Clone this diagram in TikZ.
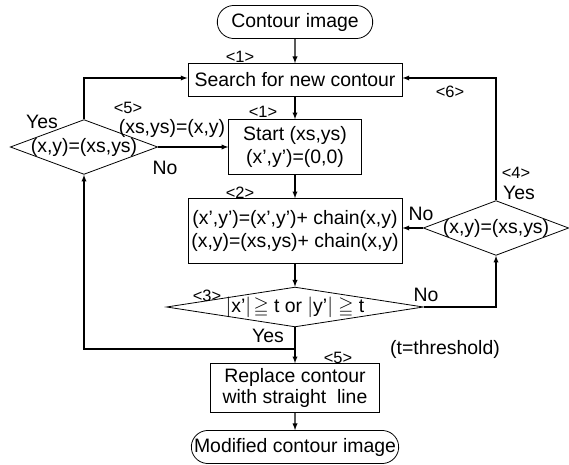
\documentclass[tikz,border=0pt]{standalone}
\usepackage{amssymb}
\usepackage{fontspec}
\setmainfont{Liberation Sans}
\usetikzlibrary{calc,shapes.geometric,shapes.misc}
\def\drawflow{\draw[->,>=latex,line width=1.3bp]}
\def\procnode{\node[draw,line width=0.8bp,inner sep=0pt,align=center]}
\def\termnode{\node[draw,line width=0.8bp,rounded rectangle,rounded rectangle arc length=170,inner sep=0pt]}
\def\decnode{\node[draw,line width=0.8bp,diamond,inner sep=0pt]}
\def\tagnode{\node[font=\fontsize{16.5}{18}\selectfont,inner sep=0pt]}

\begin{document}
\begin{tikzpicture}[x=1bp,y=-1bp,font=\fontsize{19.5}{23}\selectfont]
\useasboundingbox (0,0) rectangle (569,465);
\coordinate (o) at (295,0);

% Main column, positions are relative to (o)
\termnode[minimum width=156,minimum height=33] (start_img) at ($ (o) + (0,22) $) {Contour image};
\procnode[minimum width=215,minimum height=33] (search) at ($ (o) + (0,80) $) {Search for new contour};
\procnode[minimum width=133,minimum height=55] (begin) at ($ (o) + (0,147) $) {Start (xs,ys)\\(x’,y’)=(0,0)};
\procnode[minimum width=215,minimum height=65] (chain) at ($ (o) + (0,231) $) {(x’,y’)=(x’,y’)+ chain(x,y)\\(x,y)=(xs,ys)+ chain(x,y)};
\decnode[minimum width=258,minimum height=40,label={center:$|$x’$|\!\geqq$ t or $|$y’$|$ $\geqq$ t}] (thresh) at ($ (o) + (0,307) $) {};
\procnode[minimum width=170,minimum height=49,font=\fontsize{19.5}{21}\selectfont] (replace) at ($ (o) + (0,388) $) {Replace contour\\with straight~ line};
\termnode[minimum width=197,minimum height=33] (end_img) at ($ (o) + (0,447) $) {Modified contour image};

% Side decisions
\decnode[minimum width=146,minimum height=55,label={center:(x,y)=(xs,ys)}] (closed) at (496,228) {};
\decnode[minimum width=148,minimum height=55,label={center:(x,y)=(xs,ys)}] (back) at (84,147) {};
\coordinate (join) at ($ (o) + (0,349) $);

\drawflow (start_img) to (search);
\drawflow (search) to (begin);
\drawflow (begin) to (chain);
\drawflow (chain) to (thresh);
\drawflow (thresh) to (replace);
\drawflow (replace) to (end_img);

\drawflow (thresh.east) -| (closed.south);
\drawflow (closed.west) -- (closed.west -| chain.east);
\drawflow (closed.north) |- ($ (search.east) + (0,-2) $);
\drawflow (back.north) |- ($ (search.west) + (0,-2) $);
\drawflow (back.east) -- (begin.west);
\drawflow (join) -| (back.south);

% Step numbers and branch labels
\tagnode (t1) at (240,57) {<1>};
\tagnode (t1b) at (263,112) {<1>};
\tagnode (t2) at (240,193) {<2>};
\tagnode (t3) at (207,296) {<3>};
\tagnode (t4) at (516,173) {<4>};
\tagnode (t5) at (128,108) {<5>};
\tagnode (t5b) at (338,358) {<5>};
\tagnode (t6) at (450,92) {<6>};

\node[inner sep=0pt] (yes_back) at (42,122) {Yes};
\node[inner sep=0pt] (no_back) at (165,168) {No};
\node[inner sep=0pt] (reset) at (172,128) {(xs,ys)=(x,y)};
\node[inner sep=0pt] (yes_closed) at (519,193) {Yes};
\node[inner sep=0pt] (no_closed) at (421,214) {No};
\node[inner sep=0pt] (no_thresh) at (426,295) {No};
\node[inner sep=0pt] (yes_thresh) at (268,336) {Yes};
\node[inner sep=0pt] (thr) at (445,349) {(t=threshold)};
\end{tikzpicture}
\end{document}
